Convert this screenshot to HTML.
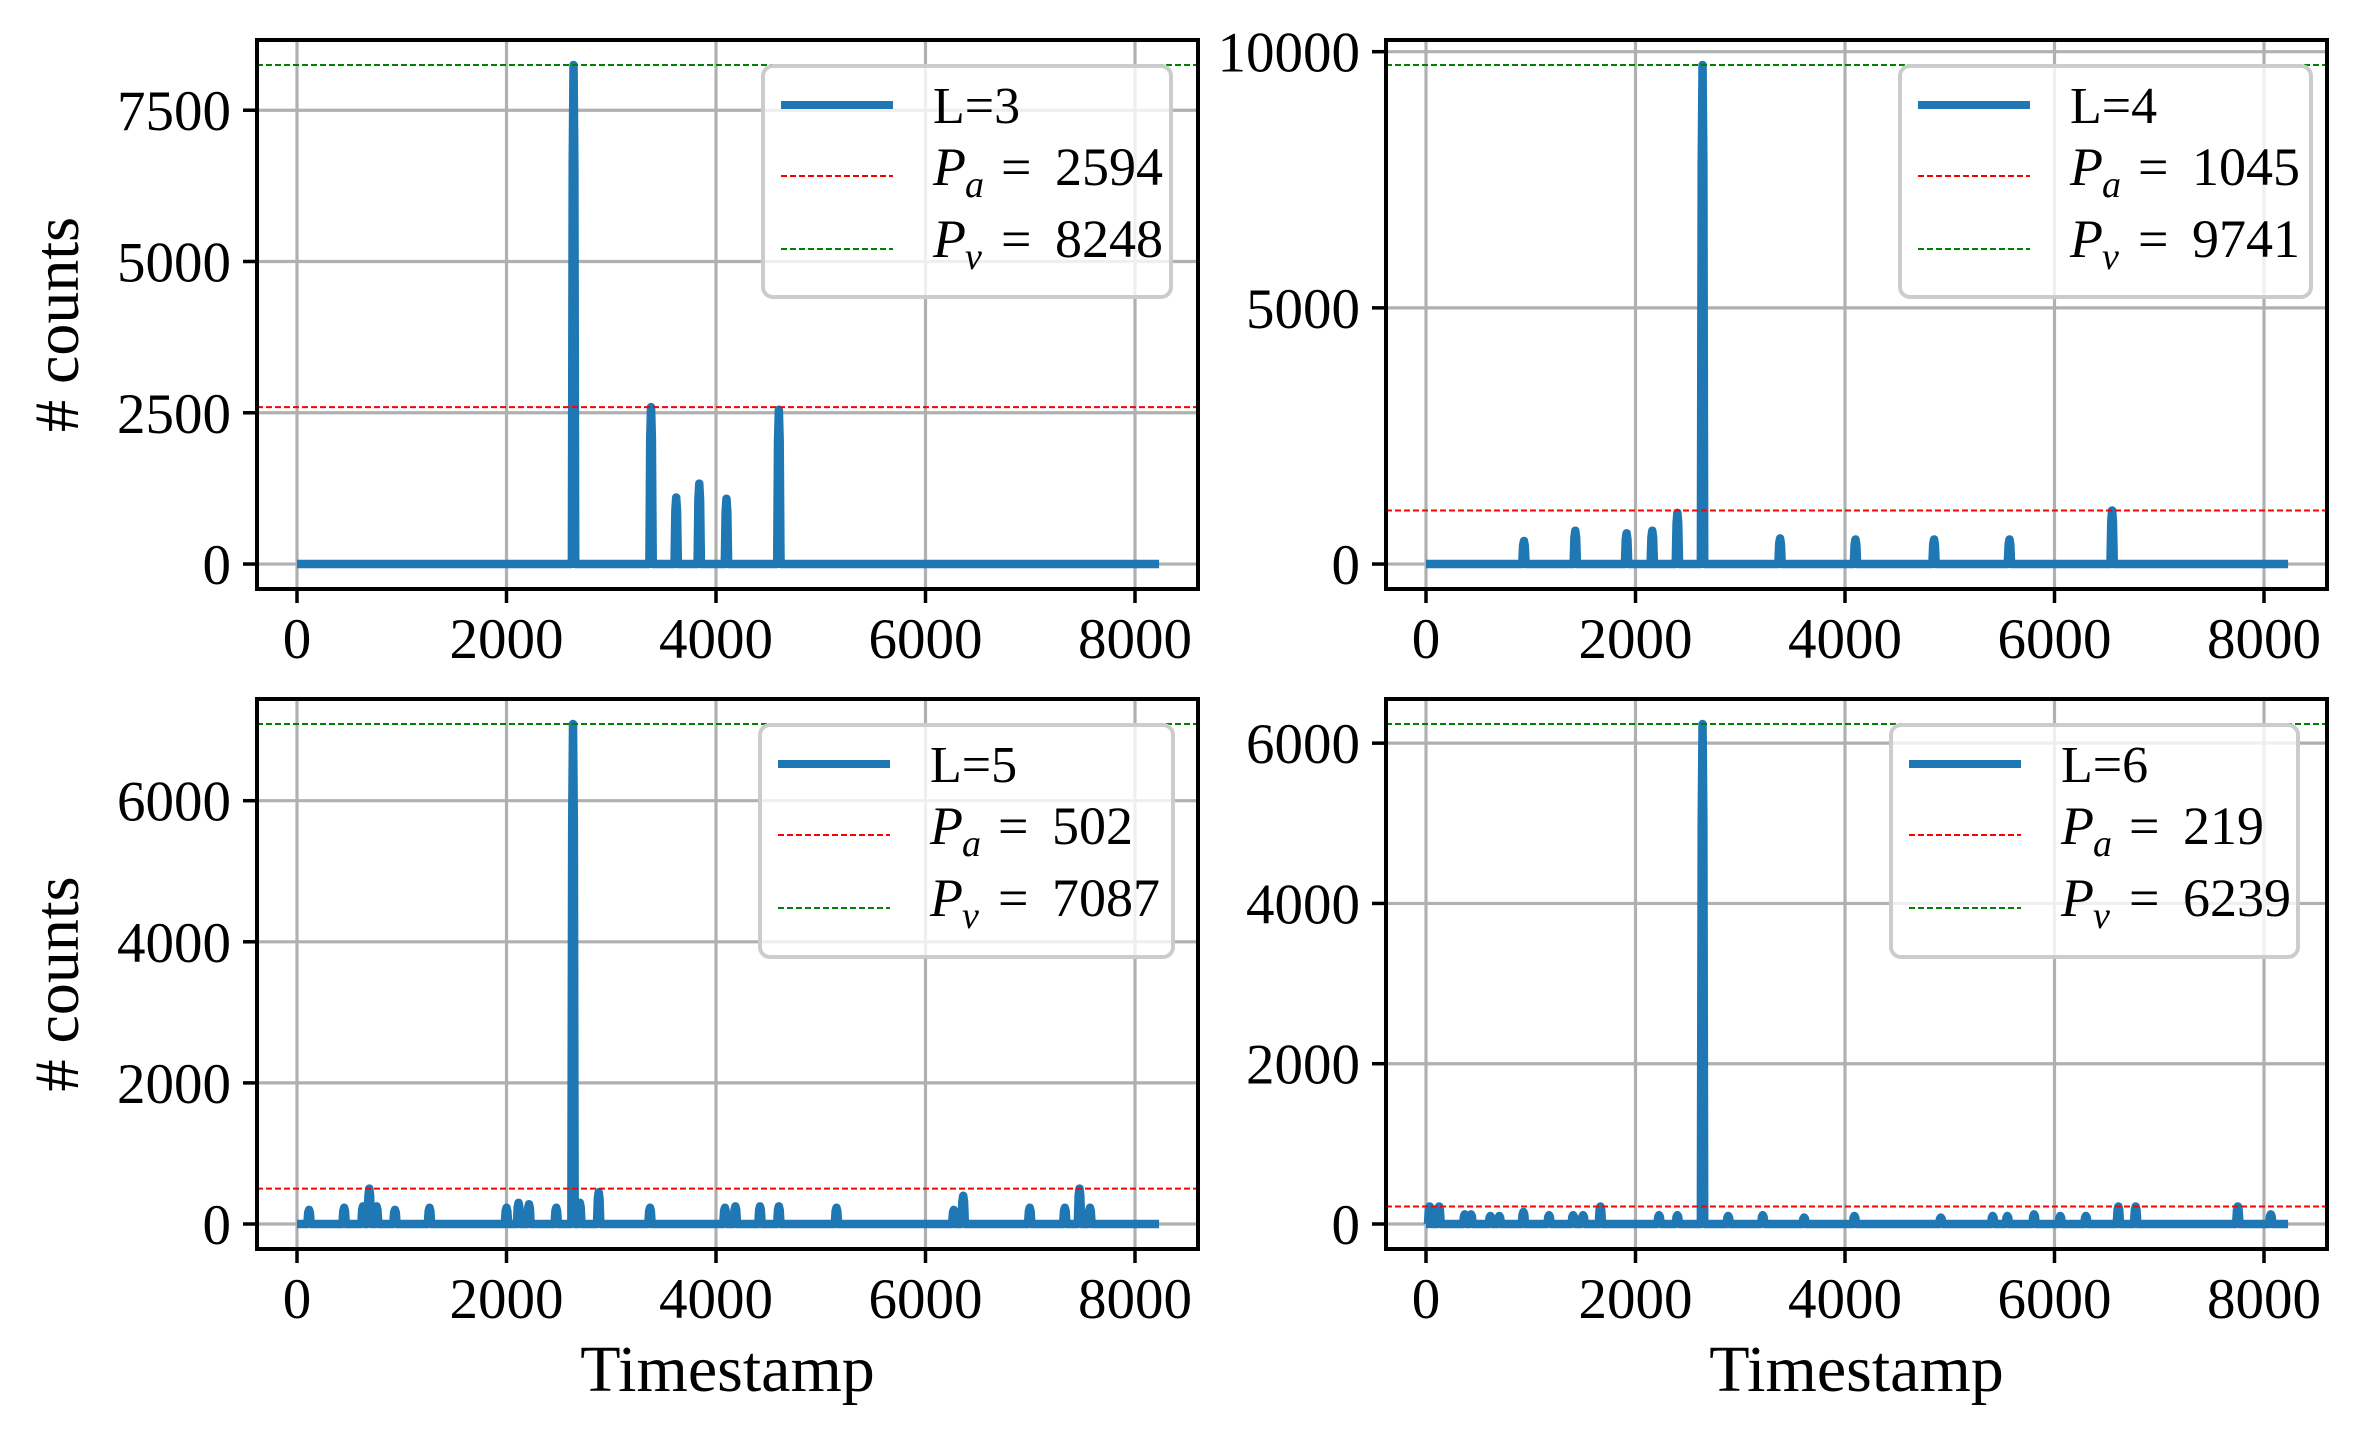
<!DOCTYPE html>
<html><head><meta charset="utf-8"><style>
html,body{margin:0;padding:0;background:#fff;}
svg text{font-family:"Liberation Serif",serif;fill:#000;}
</style></head><body>
<svg id="s" width="2364" height="1433" viewBox="0 0 2364 1433" xmlns="http://www.w3.org/2000/svg"></svg>
<script>
const S=document.getElementById('s');
let h='';
const panels=[
 {L:3,pa:2594,pv:8248,ax:[257,40,1198,589],yt:[0,2500,5000,7500],leg:[763,66,1171,297],ylab:true,
  peaks:[[2640,8248],[3380,2594],[3620,1100],[3840,1330],[4100,1080],[4600,2550]]},
 {L:4,pa:1045,pv:9741,ax:[1386,40,2327,589],yt:[0,5000,10000],leg:[1900,66,2311,297],ylab:false,
  peaks:[[935,450],[1425,650],[1915,600],[2160,650],[2400,1000],[2640,9741],[3380,500],[4100,480],[4850,480],[5570,480],[6550,1045]]},
 {L:5,pa:502,pv:7087,ax:[257,699,1198,1249],yt:[0,2000,4000,6000],leg:[760,725,1173,957],ylab:true,xlab:true,
  peaks:[[115,200],[450,230],[630,250],[690,502],[760,250],[935,200],[1265,230],[2000,230],[2115,300],[2215,280],[2475,230],[2635,7087],[2700,300],[2880,450],[3370,230],[4085,230],[4185,250],[4420,250],[4600,250],[5150,230],[6270,200],[6360,400],[6995,230],[7330,230],[7470,502],[7570,230]]},
 {L:6,pa:219,pv:6239,ax:[1386,699,2327,1249],yt:[0,2000,4000,6000],leg:[1891,725,2298,957],ylab:false,xlab:true,
  peaks:[[35,219],[125,219],[370,120],[430,120],[615,100],[700,100],[930,150],[1175,110],[1405,110],[1500,110],[1665,219],[2225,110],[2400,110],[2640,6239],[2885,100],[3215,110],[3610,80],[4090,100],[4915,80],[5410,100],[5550,100],[5805,120],[6055,100],[6300,100],[6610,219],[6775,219],[7750,219],[8065,120]]}
];
for(const p of panels){
 const [x0,y0,x1,y1]=p.ax;
 const X=d=>x0+40+d*209.5/2000;
 const ymin=-0.05*p.pv, ymax=1.05*p.pv;
 const Y=v=>y1-(v-ymin)/(ymax-ymin)*(y1-y0);
 for(let t=0;t<=8000;t+=2000){h+=`<line x1="${X(t)}" y1="${y0}" x2="${X(t)}" y2="${y1}" stroke="#b0b0b0" stroke-width="3.2"/>`;}
 for(const t of p.yt){h+=`<line x1="${x0}" y1="${Y(t)}" x2="${x1}" y2="${Y(t)}" stroke="#b0b0b0" stroke-width="3.2"/>`;}
 let d=`M${X(0)} ${Y(0)}`;
 const w=16;
 for(const [c,v] of p.peaks){
  d+=` L${X(c-w)} ${Y(0)} L${X(c-w*0.5)} ${Y(v*0.8)} L${X(c)} ${Y(v)} L${X(c+w*0.5)} ${Y(v*0.8)} L${X(c+w)} ${Y(0)}`;
 }
 d+=` L${X(8230)} ${Y(0)}`;
 h+=`<path d="${d}" fill="none" stroke="#1f77b4" stroke-width="8.5" stroke-linejoin="round"/>`;
 h+=`<line x1="${x0}" y1="${Y(p.pa)}" x2="${x1}" y2="${Y(p.pa)}" stroke="#ff0000" stroke-width="2" stroke-dasharray="6,3"/>`;
 h+=`<line x1="${x0}" y1="${Y(p.pv)}" x2="${x1}" y2="${Y(p.pv)}" stroke="#008000" stroke-width="2" stroke-dasharray="6,3"/>`;
 h+=`<rect x="${x0}" y="${y0}" width="${x1-x0}" height="${y1-y0}" fill="none" stroke="#000" stroke-width="4"/>`;
 for(let t=0;t<=8000;t+=2000){h+=`<line x1="${X(t)}" y1="${y1}" x2="${X(t)}" y2="${y1+14}" stroke="#000" stroke-width="3.5"/>`;
  h+=`<text x="${X(t)}" y="${y1+69}" font-size="57" text-anchor="middle">${t}</text>`;}
 for(const t of p.yt){h+=`<line x1="${x0-14}" y1="${Y(t)}" x2="${x0}" y2="${Y(t)}" stroke="#000" stroke-width="3.5"/>`;
  h+=`<text x="${x0-26}" y="${Y(t)+20}" font-size="57" text-anchor="end">${t}</text>`;}
 if(p.ylab){
  h+=`<text transform="translate(78,${(y0+y1)/2+10}) rotate(-90)" font-size="64" text-anchor="middle"># counts</text>`;}
 if(p.xlab){h+=`<text x="${(x0+x1)/2}" y="1391" font-size="66" text-anchor="middle">Timestamp</text>`;}
 const [lx0,ly0,lx1,ly1]=p.leg;
 h+=`<rect x="${lx0}" y="${ly0}" width="${lx1-lx0}" height="${ly1-ly0}" rx="10" fill="#fff" fill-opacity="0.8" stroke="#cccccc" stroke-width="4"/>`;
 const sx=lx0+18, tx=lx0+170;
 h+=`<line x1="${sx}" y1="${ly0+39}" x2="${sx+112}" y2="${ly0+39}" stroke="#1f77b4" stroke-width="8"/>`;
 h+=`<line x1="${sx}" y1="${ly0+110}" x2="${sx+112}" y2="${ly0+110}" stroke="#ff0000" stroke-width="2" stroke-dasharray="6,3"/>`;
 h+=`<line x1="${sx}" y1="${ly0+183}" x2="${sx+112}" y2="${ly0+183}" stroke="#008000" stroke-width="2" stroke-dasharray="6,3"/>`;
 h+=`<text x="${tx}" y="${ly0+57}" font-size="52">L=${p.L}</text>`;
 const row=(yy,sub,val)=>{
  h+=`<text x="${tx}" y="${yy}" font-size="54" font-style="italic">P</text>`;
  h+=`<text x="${tx+32}" y="${yy+12}" font-size="38" font-style="italic">${sub}</text>`;
  h+=`<text x="${tx+68}" y="${yy}" font-size="54">=</text>`;
  h+=`<text x="${tx+122}" y="${yy}" font-size="54">${val}</text>`;
 };
 row(ly0+119,'a',p.pa);
 row(ly0+191,'v',p.pv);
}
S.innerHTML=h;
</script>
</body></html>
